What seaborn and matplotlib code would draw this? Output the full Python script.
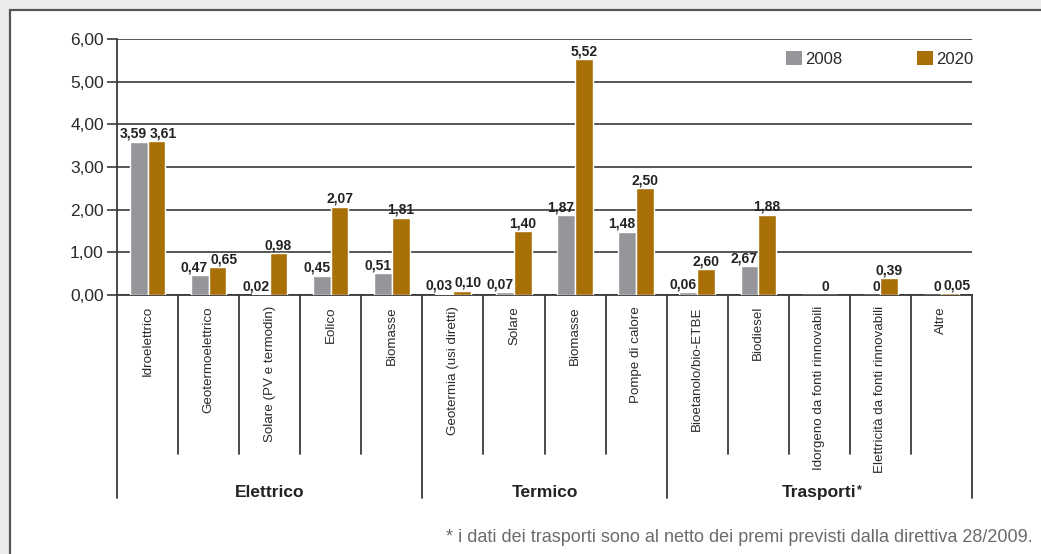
import matplotlib
matplotlib.use("Agg")
import matplotlib.pyplot as plt
from matplotlib.patches import Rectangle, Patch
import seaborn as sns
import pandas as pd

# ---------------- data ----------------
categories = ["Idroelettrico", "Geotermoelettrico", "Solare (PV e termodin)", "Eolico", "Biomasse",
              "Geotermia (usi diretti)", "Solare", "Biomasse ", "Pompe di calore",
              "Bioetanolo/bio-ETBE", "Biodiesel", "Idorgeno da fonti rinnovabili",
              "Elettricità da fonti rinnovabili", "Altre"]
tick_labels = ["Idroelettrico", "Geotermoelettrico", "Solare (PV e termodin)", "Eolico", "Biomasse",
               "Geotermia (usi diretti)", "Solare", "Biomasse", "Pompe di calore",
               "Bioetanolo/bio-ETBE", "Biodiesel", "Idorgeno da fonti rinnovabili",
               "Elettricità da fonti rinnovabili", "Altre"]
values_2008 = [3.59, 0.47, 0.02, 0.45, 0.51, 0.03, 0.07, 1.87, 1.48, 0.06, 0.68, 0.0, 0.0, 0.0]
values_2020 = [3.61, 0.65, 0.98, 2.07, 1.81, 0.10, 1.50, 5.52, 2.50, 0.61, 1.88, 0.0, 0.39, 0.05]
labels_2008 = ["3,59", "0,47", "0,02", "0,45", "0,51", "0,03", "0,07", "1,87", "1,48", "0,06", "2,67", "", "0", "0"]
labels_2020 = ["3,61", "0,65", "0,98", "2,07", "1,81", "0,10", "1,40", "5,52", "2,50", "2,60", "1,88", "0", "0,39", "0,05"]
groups = ["Elettrico", "Termico", "Trasporti"]
group_sizes = [5, 4, 5]
series = ["2008", "2020"]
yticks = [0, 1, 2, 3, 4, 5, 6]
ytick_labels = ["0,00", "1,00", "2,00", "3,00", "4,00", "5,00", "6,00"]
footnote = "* i dati dei trasporti sono al netto dei premi previsti dalla direttiva 28/2009."

GRAY = "#96969a"
BROWN = "#a97008"
DARK = "#3a3a3a"

sns.set_style("white")
plt.rcParams["font.family"] = ["Liberation Sans", "DejaVu Sans"]

df = pd.DataFrame({
    "cat": categories * 2,
    "year": [series[0]] * len(categories) + [series[1]] * len(categories),
    "val": values_2008 + values_2020,
})

W, H = 1041, 554
fig = plt.figure(figsize=(W / 100, H / 100), dpi=100, facecolor="#ececee")
fig.patches.append(Rectangle((10 / W, -0.2), 1.2, (H - 10) / H + 0.2, transform=fig.transFigure,
                             facecolor="white", edgecolor="#555555", lw=1.6, zorder=-10))

ax = fig.add_axes([117 / W, (H - 295) / H, (972 - 117) / W, (295 - 39) / H])
ax.set_zorder(2)
ax.patch.set_alpha(0)
sns.barplot(data=df, x="cat", y="val", hue="year", order=categories, hue_order=series,
            palette=[GRAY, BROWN], width=0.58, gap=0, saturation=1, ax=ax, legend=False, zorder=3)
ax.set_xlim(-0.5, len(categories) - 0.5)
ax.set_ylim(0, 6)
ax.set_yticks(yticks)
ax.set_yticklabels(ytick_labels, fontsize=12.5, color="#2a2a2a")
ax.tick_params(axis="y", length=7.5, width=1.2, color=DARK, pad=2, left=True)
ax.set_xticks(range(len(categories)))
ax.set_xticklabels(tick_labels, rotation=90, ha="center", va="top", fontsize=9.6, color="#2a2a2a")
ax.tick_params(axis="x", length=0, pad=8)
ax.set_xlabel("")
ax.set_ylabel("")
ax.grid(axis="y", color=DARK, lw=1.2)
ax.set_axisbelow(True)
for s in ["top", "right"]:
    ax.spines[s].set_visible(False)
for s in ["left", "bottom"]:
    ax.spines[s].set_color(DARK)
    ax.spines[s].set_linewidth(1.3)

# value labels
LBL = dict(fontsize=10, fontweight="bold", color="#222222", zorder=4, va="bottom")
for i in range(len(categories)):
    v8, v20 = values_2008[i], values_2020[i]
    if labels_2008[i]:
        ax.text(i - 0.01, v8 + 0.02, labels_2008[i], ha="right", **LBL)
    if abs(v8 - v20) < 0.3:
        ax.text(i + 0.03, v20 + 0.02, labels_2020[i], ha="left", **LBL)
    else:
        ax.text(i + 0.145, v20 + 0.02, labels_2020[i], ha="center", **LBL)

# divider lines below the axis
xt = ax.get_xaxis_transform()
bounds = [-0.5]
for n in group_sizes:
    bounds.append(bounds[-1] + n)
for i in range(len(categories) + 1):
    xpos = i - 0.5
    if xpos in bounds:
        ax.plot([xpos, xpos], [0, -0.793], transform=xt, color=DARK, lw=1.3, clip_on=False)
    else:
        ax.plot([xpos, xpos], [0, -0.621], transform=xt, color=DARK, lw=1.3, clip_on=False)

for gi, g in enumerate(groups):
    cx = (bounds[gi] + bounds[gi + 1]) / 2
    t = ax.text(cx, -0.77, g, transform=xt, ha="center", va="center", fontsize=12.5,
                fontweight="bold", color="#222222")
    if g == "Trasporti":
        ax.annotate("*", xy=(1, 0.62), xycoords=t, xytext=(0.5, 0), textcoords="offset points",
                    ha="left", va="center", fontsize=9, fontweight="bold", color="#222222")

# legend
handles = [Patch(facecolor=GRAY, edgecolor="none"), Patch(facecolor=BROWN, edgecolor="none")]
fig.legend(handles, series, loc="upper left", bbox_to_anchor=(786 / W, (H - 51) / H), ncol=2,
           frameon=False, fontsize=12, handlelength=0.95, handleheight=0.95, handletextpad=0.2,
           columnspacing=4.5, borderpad=0, borderaxespad=0, labelcolor="#2a2a2a")

fig.text(1033 / W, (H - 538) / H, footnote, ha="right", va="center", fontsize=13, color="#6b6b6b")

fig.savefig("out.png", dpi=100, facecolor=fig.get_facecolor())
